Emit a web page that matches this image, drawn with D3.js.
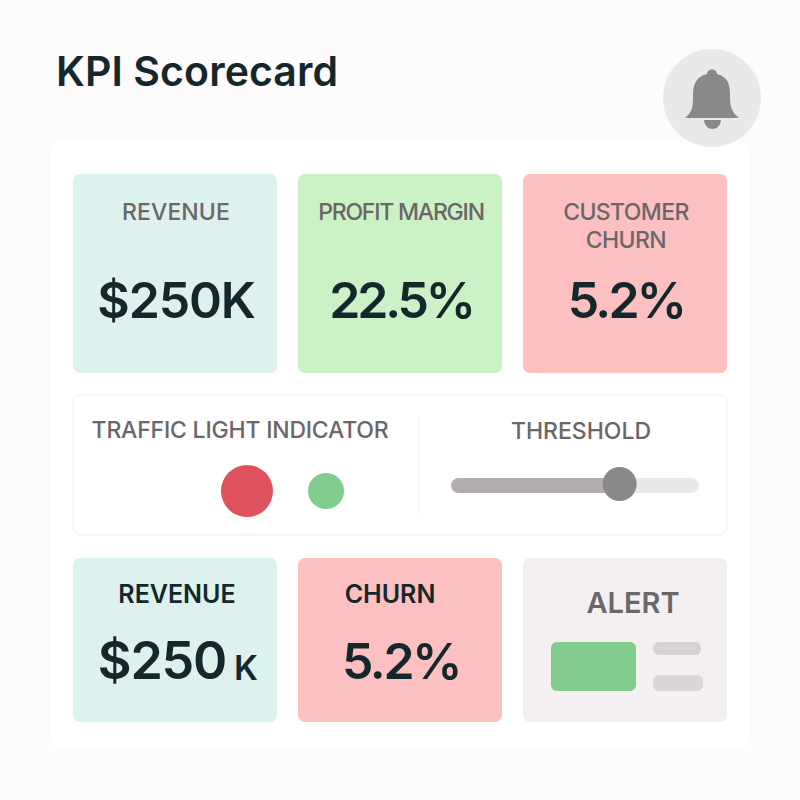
<!DOCTYPE html>
<html>
<head>
<meta charset="utf-8">
<script src="https://cdn.jsdelivr.net/npm/d3@7"></script>
<style>
  html, body { margin: 0; padding: 0; background: #fefbfc; }
  svg { display: block; }
  text { font-family: Inter, "Noto Sans", sans-serif; }
</style>
</head>
<body>
<div id="chart"></div>
<script>
const title = 'KPI Scorecard';

const topLabels = [['REVENUE'], ['PROFIT MARGIN'], ['CUSTOMER', 'CHURN']];
const topValues = ['$250K', '22.5%', '5.2%'];
const topStatus = ['neutral', 'good', 'bad'];

const bottomLabels = ['REVENUE', 'CHURN'];
const bottomValues = ['$250', '5.2%'];
const bottomStatus = ['neutral', 'bad'];

const lightSizes = [26, 18];
const lightStatus = ['red', 'green'];

const thresholdValue = 68;

const colors = {
  neutral: '#ddf1ee',
  good: '#ccf1c6',
  bad: '#fdc0c0',
  red: '#e0515f',
  green: '#82cd8d',
  ink: '#14282b',
  label: '#6b6769',
  grey: '#8b888a'
};

const width = 800;
const height = 800;

const svg = d3.select('#chart')
  .append('svg')
  .attr('width', width)
  .attr('height', height);

svg.append('rect')
  .attr('width', width)
  .attr('height', height)
  .attr('fill', '#fefbfc');

// white sheet behind the cards
svg.append('rect')
  .attr('x', 50)
  .attr('y', 142)
  .attr('width', 700)
  .attr('height', 606)
  .attr('rx', 8)
  .attr('fill', '#ffffff');

svg.append('text')
  .attr('x', 56)
  .attr('y', 86)
  .attr('font-size', 41)
  .attr('font-weight', 600)
  .attr('letter-spacing', 0.1)
  .attr('fill', colors.ink)
  .text(title);

drawBell();

const x = d3.scaleBand()
  .domain(d3.range(3))
  .range([73, 727])
  .paddingInner(0.0933)
  .paddingOuter(0);

function card(i, top, h, fill) {
  return svg.append('rect')
    .attr('x', x(i))
    .attr('y', top)
    .attr('width', x.bandwidth())
    .attr('height', h)
    .attr('rx', 7)
    .attr('fill', fill);
}

function label(px, py, size, fill, str, weight = 500, spacing = 0) {
  return svg.append('text')
    .attr('x', px)
    .attr('y', py)
    .attr('text-anchor', 'middle')
    .attr('font-size', size)
    .attr('font-weight', weight)
    .attr('letter-spacing', spacing)
    .attr('fill', fill)
    .text(str);
}

// the source is set tighter for long labels and percentages
const topLabelSpacing = [0.1, -1.2, -0.6];
const topValueSpacing = [-1.2, -3.2, -2.8];

// top row
topValues.forEach((value, i) => {
  card(i, 174, 199, colors[topStatus[i]]);
  const cx = x(i) + x.bandwidth() / 2;
  topLabels[i].forEach((line, j) => {
    label(cx + 1, 220 + j * 28, 23, colors.label, line, 500, topLabelSpacing[i]);
  });
  label(cx + 1, 318, 50, colors.ink, value, 600, topValueSpacing[i]);
});

// traffic light + threshold panel
svg.append('rect')
  .attr('x', 73)
  .attr('y', 395)
  .attr('width', 654)
  .attr('height', 140)
  .attr('rx', 7)
  .attr('fill', '#ffffff')
  .attr('stroke', '#f1eded');

svg.append('line')
  .attr('x1', 419)
  .attr('x2', 419)
  .attr('y1', 415)
  .attr('y2', 515)
  .attr('stroke', '#f3f0f0');

label(240, 438, 23, colors.label, 'TRAFFIC LIGHT INDICATOR', 500, -0.2);
label(581, 439, 23, colors.label, 'THRESHOLD');

const lightX = d3.scalePoint()
  .domain(lightStatus)
  .range([247, 326]);

svg.selectAll('.light')
  .data(lightStatus)
  .enter()
  .append('circle')
  .attr('class', 'light')
  .attr('cx', d => lightX(d))
  .attr('cy', 491)
  .attr('r', (d, i) => lightSizes[i])
  .attr('fill', d => colors[d]);

const slider = d3.scaleLinear()
  .domain([0, 100])
  .range([451, 699]);

svg.append('rect')
  .attr('x', slider(0))
  .attr('y', 478)
  .attr('width', slider(100) - slider(0))
  .attr('height', 15)
  .attr('rx', 7.5)
  .attr('fill', '#ebe8e8');

svg.append('rect')
  .attr('x', slider(0))
  .attr('y', 478)
  .attr('width', slider(thresholdValue) - slider(0))
  .attr('height', 15)
  .attr('rx', 7.5)
  .attr('fill', '#b2aeae');

svg.append('circle')
  .attr('cx', slider(thresholdValue))
  .attr('cy', 484)
  .attr('r', 17)
  .attr('fill', colors.grey);

// bottom row
bottomValues.forEach((value, i) => {
  card(i, 558, 164, colors[bottomStatus[i]]);
  const cx = x(i) + x.bandwidth() / 2;
  label(i === 0 ? cx + 2 : cx - 10, 603, 25, colors.ink, bottomLabels[i], 600);
  if (i === 0) {
    label(162, 679, 52, colors.ink, value, 600, -1.2);
    label(246, 680, 34, colors.ink, 'K', 600);
  } else {
    label(401, 679, 50, colors.ink, value, 600, -2.4);
  }
});

// alert card
card(2, 558, 164, '#f4f0f1');
label(633, 613, 29, colors.label, 'ALERT', 600);

svg.append('rect')
  .attr('x', 551)
  .attr('y', 642)
  .attr('width', 85)
  .attr('height', 49)
  .attr('rx', 6)
  .attr('fill', colors.green);

svg.append('rect')
  .attr('x', 653)
  .attr('y', 642)
  .attr('width', 48)
  .attr('height', 13)
  .attr('rx', 6)
  .attr('fill', '#d6d2d2');

svg.append('rect')
  .attr('x', 653)
  .attr('y', 675)
  .attr('width', 50)
  .attr('height', 16)
  .attr('rx', 6)
  .attr('fill', '#d9d6d6');

function drawBell() {
  const g = svg.append('g');

  g.append('circle')
    .attr('cx', 712)
    .attr('cy', 98)
    .attr('r', 49)
    .attr('fill', '#ebe8e8');

  g.append('path')
    .attr('d', 'M685,118 C692,112 693,108 693,96 C693,84 696,77 707,74 C707,68 717,68 717,74 C728,77 730,84 730,96 C730,108 732,112 739,118 Z')
    .attr('fill', colors.grey);

  g.append('path')
    .attr('d', 'M704,120 L721,120 C720,132 705,132 704,120 Z')
    .attr('fill', colors.grey);
}
</script>
</body>
</html>
